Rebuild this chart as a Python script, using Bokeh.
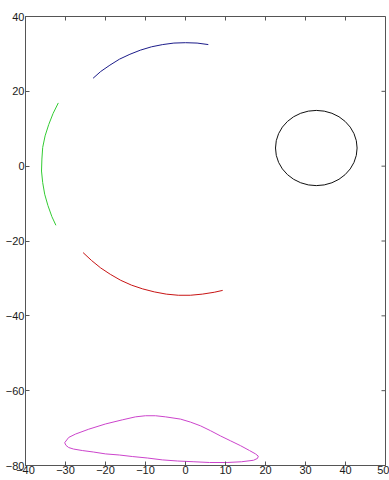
import math
from bokeh.plotting import figure
from bokeh.models import Range1d, FixedTicker
from bokeh.embed import file_html
from bokeh.resources import INLINE

# ---- data ----
x_min, x_max = -40, 50
y_min, y_max = -80, 40
x_ticks = [-40, -30, -20, -10, 0, 10, 20, 30, 40, 50]
y_ticks = [-80, -60, -40, -20, 0, 20, 40]

blue_x = [5.7, 2.9, 0.0, -2.9, -5.7, -8.5, -11.3, -13.9, -16.5, -18.9, -21.2, -23.1]
blue_y = [32.5, 32.9, 33.0, 32.9, 32.5, 31.9, 31.0, 29.9, 28.6, 27.0, 25.3, 23.5]

green_x = [-31.8, -33.1, -34.2, -35.1, -35.7, -35.9, -36.0, -35.7, -35.2, -34.4, -33.4, -32.4]
green_y = [16.9, 14.1, 11.1, 8.1, 5.0, 1.9, -1.3, -4.4, -7.5, -10.5, -13.5, -15.8]

red_x = [-25.6, -23.5, -21.2, -18.8, -16.2, -13.5, -10.7, -7.8, -4.8, -1.8, 1.2, 4.2, 7.2, 9.3]
red_y = [-23.1, -25.2, -27.2, -28.9, -30.5, -31.8, -32.8, -33.6, -34.2, -34.5, -34.5, -34.2, -33.7, -33.2]

circle_cx = [32.7]
circle_cy = [4.85]
circle_w = [20.4]
circle_h = [20.1]

magenta_x = [-30.2, -29.2, -27.5, -24.2, -20.0, -15.8, -12.5, -10.0, -7.5, -5.0,
             -1.25, 1.25, 3.75, 6.25, 8.75, 11.25, 13.75, 16.0, 17.5, 18.2,
             18.0, 17.0, 14.0, 10.4, 6.0, 2.1, -2.0, -5.8, -9.5, -13.3,
             -16.5, -20.0, -23.0, -25.8, -28.0, -29.2, -29.9, -30.2]
magenta_y = [-73.9, -72.5, -71.6, -70.3, -68.9, -67.8, -67.0, -66.7, -66.7, -67.0,
             -67.6, -68.4, -69.4, -70.7, -72.1, -73.4, -74.7, -76.0, -76.9, -77.5,
             -78.1, -78.6, -79.0, -79.2, -79.2, -79.0, -78.8, -78.5, -78.0, -77.6,
             -77.2, -76.9, -76.4, -76.0, -75.6, -75.2, -74.6, -73.9]

AX = "#555555"
TXT = "#1a1a1a"
FONT = "Liberation Sans"

p = figure(frame_width=360, frame_height=449,
           x_range=Range1d(x_min, x_max), y_range=Range1d(y_min, y_max),
           output_backend="svg", toolbar_location=None,
           min_border_left=25, min_border_right=4, min_border_top=16, min_border_bottom=15,
           background_fill_color="white", border_fill_color="white")
p.grid.visible = False
p.outline_line_color = AX
p.outline_line_width = 1

for ax, ticks, standoff in ((p.xaxis[0], x_ticks, 0), (p.yaxis[0], y_ticks, 1)):
    ax.ticker = FixedTicker(ticks=ticks)
    ax.axis_line_color = AX
    ax.major_tick_line_color = AX
    ax.major_tick_in = 4
    ax.major_tick_out = 0
    ax.minor_tick_in = 0
    ax.minor_tick_out = 0
    ax.major_label_text_font = FONT
    ax.major_label_text_font_size = "11px"
    ax.major_label_text_color = TXT
    ax.major_label_standoff = standoff

# inward tick marks on the top and right edges of the box
p.ray(x=x_ticks, y=[y_max] * len(x_ticks), length=4, length_units="screen",
      angle=-math.pi / 2, line_color=AX, line_width=1)
p.ray(x=[x_max] * len(y_ticks), y=y_ticks, length=4, length_units="screen",
      angle=math.pi, line_color=AX, line_width=1)

p.line(blue_x, blue_y, line_color="#1c1c8a", line_width=1)
p.line(green_x, green_y, line_color="#33cc33", line_width=1)
p.line(red_x, red_y, line_color="#c81414", line_width=1)
p.ellipse(x=circle_cx, y=circle_cy, width=circle_w, height=circle_h,
          fill_color=None, line_color="#111111", line_width=1)
p.line(magenta_x, magenta_y, line_color="#cc44cc", line_width=1)

open("out.html", "w").write(file_html(p, INLINE))
